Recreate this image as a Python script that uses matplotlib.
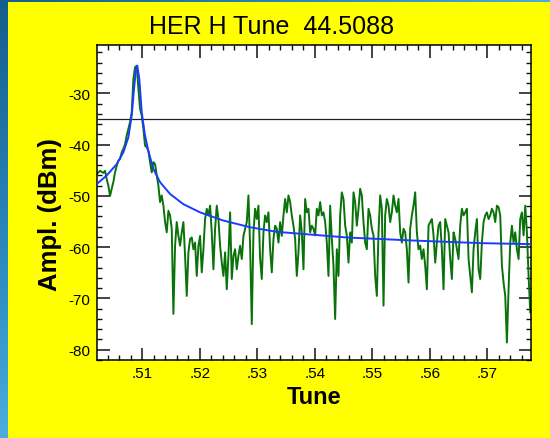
import numpy as np
import matplotlib
matplotlib.use("Agg")
import matplotlib.pyplot as plt
from matplotlib.colors import LinearSegmentedColormap
from matplotlib.patches import Rectangle
from matplotlib.ticker import MultipleLocator, FuncFormatter

plt.rcParams['font.family'] = ['Liberation Sans', 'DejaVu Sans']
plt.rcParams['axes.unicode_minus'] = False

# ============================================
# SPECTRUM DATA
# ============================================

# spectrum bins are evenly spaced in tune
tune_start = 0.50207
tune_step = 0.00029

# measured amplitude (dBm), split in three stretches
green_peak_db = [
    -45.7, -45.4, -45.1, -45.3, -45.5, -45.1, -46.7, -48.0, -50.0, -48.6,
    -47.3, -45.4, -44.1, -43.1, -42.8, -41.5, -40.8, -39.9, -38.2, -36.9,
    -35.6, -33.7, -27.2, -24.9, -24.6, -29.1, -33.0, -34.3, -36.9, -40.2,
    -40.5, -41.2, -43.4, -45.4, -43.4, -43.8, -46.0, -48.0, -51.2, -49.9,
]
green_mid_db = [
    -51.9, -55.1, -57.1, -52.9, -53.8, -56.4, -73.0, -59.7, -55.1, -57.8,
    -59.7, -57.1, -55.1, -61.7, -69.5, -61.0, -58.4, -58.1, -60.4, -59.1,
    -65.6, -59.7, -57.8, -64.9, -60.4, -54.5, -52.5, -53.8, -51.9, -57.1,
    -64.3, -56.4, -51.9, -54.5, -59.7, -63.0, -65.6, -61.0, -68.2, -61.7,
    -53.2, -66.2, -61.7, -60.4, -64.3, -61.7, -59.7, -62.3, -57.8, -56.4,
    -55.1, -49.9, -59.7, -75.0, -57.1, -52.5, -54.5, -51.9, -62.3, -66.2,
    -57.1, -53.8, -55.1, -53.2, -60.4, -64.9, -58.4, -55.8, -56.4, -59.1,
    -55.1, -57.8, -53.8, -50.6, -53.2, -49.9, -51.2, -53.8, -55.8, -58.4,
    -65.6, -61.0,
]
green_tail_db = [
    -53.8, -57.1, -64.3, -50.6, -53.2, -52.5, -57.1, -55.8, -56.4, -57.7,
    -52.5, -53.8, -51.2, -53.8, -53.2, -55.1, -59.1, -65.6, -51.9, -58.4,
    -63.6, -74.0, -60.4, -65.6, -53.8, -49.3, -50.6, -55.8, -57.7, -63.0,
    -57.1, -59.1, -49.3, -51.2, -55.8, -52.5, -48.6, -49.9, -55.1, -59.1,
    -60.4, -52.5, -53.8, -56.4, -57.7, -65.6, -69.5, -57.1, -49.9, -52.5,
    -71.4, -53.8, -50.6, -51.9, -55.1, -53.2, -49.9, -51.9, -53.2, -50.6,
    -57.1, -59.1, -56.4, -57.1, -60.4, -66.9, -56.4, -53.8, -51.9, -49.3,
    -57.1, -60.4, -59.7, -62.3, -60.4, -63.6, -68.2, -55.8, -55.1, -54.5,
    -57.7, -63.0, -59.1, -55.8, -55.1, -60.4, -68.2, -54.5, -55.8, -57.1,
    -62.3, -66.2, -57.1, -58.4, -60.4, -62.3, -55.8, -52.5, -53.8, -53.2,
    -52.5, -62.3, -65.6, -68.8, -60.4, -57.1, -54.5, -64.3, -66.2, -59.1,
    -55.1, -53.8, -53.2, -54.5, -53.8, -52.5, -53.2, -55.1, -51.9, -52.2,
    -53.8, -63.6, -66.9, -69.5, -78.6, -68.2, -59.1, -55.8, -59.1, -57.1,
    -60.4, -62.3, -54.5, -53.2, -57.7, -51.9, -57.1, -65.6, -72.7,
]

# resonance fit
fit_tune = [
    0.50207, 0.50381, 0.50555, 0.50670, 0.50757, 0.50816, 0.50856, 0.50891,
    0.50913, 0.50948, 0.50990, 0.51047, 0.51104, 0.51191, 0.51308, 0.51482,
    0.51713, 0.52004, 0.52409, 0.52873, 0.53337, 0.54555, 0.55713, 0.56873,
    0.57743,
]
fit_db = [
    -47.7, -46.0, -43.8, -41.5, -38.6, -34.3, -29.1, -25.2,
    -24.6, -27.2, -33.7, -38.2, -41.2, -44.7, -47.3, -49.6,
    -51.6, -53.2, -54.8, -56.1, -57.0, -58.1, -58.7, -59.2,
    -59.4,
]

threshold_db = -35
peak_tune = 44.5088

green_db = np.array(green_peak_db + green_mid_db + green_tail_db)
green_tune = tune_start + tune_step * np.arange(len(green_db))

# ============================================
# FIGURE
# ============================================

W, H = 550, 439
fig = plt.figure(figsize=(W / 100, H / 100), dpi=100)

# blue backdrop with yellow panel
bg = fig.add_axes([0, 0, 1, 1])
bg.axis('off')
yy, xx = np.mgrid[0:1:200j, 0:1:200j]
shade = np.clip(0.8 * yy + 0.8 * xx, 0, 1)
blues = LinearSegmentedColormap.from_list('bg', ['#155d8a', '#2e8cc0', '#5cc3ec'])
bg.imshow(shade, cmap=blues, aspect='auto', extent=[0, 1, 0, 1])
bg.add_patch(Rectangle((8 / W, 0), 1 - 8 / W, (H - 3) / H,
                       facecolor='#ffff00', edgecolor='none'))
bg.set_xlim(0, 1)
bg.set_ylim(0, 1)

left, right, top, bottom = 96.7, 531, 45.7, 361
ax = fig.add_axes([left / W, 1 - bottom / H, (right - left) / W, (bottom - top) / H])
ax.set_facecolor('white')

ax.plot(green_tune, green_db, color='#0a720a', lw=1.4, zorder=2)
ax.axhline(threshold_db, color='#222222', lw=0.9, zorder=3)
ax.plot(fit_tune, fit_db, color='#1a3cff', lw=1.4, zorder=4)

ax.set_xlim(0.50207, 0.57760)
ax.set_ylim(-82.0, -20.5)

ax.xaxis.set_major_locator(MultipleLocator(0.01))
ax.xaxis.set_minor_locator(MultipleLocator(0.002))
ax.yaxis.set_major_locator(MultipleLocator(10))
ax.yaxis.set_minor_locator(MultipleLocator(2))
ax.xaxis.set_major_formatter(FuncFormatter(lambda v, p: f'{v:.2f}'[1:]))
ax.yaxis.set_major_formatter(FuncFormatter(lambda v, p: f'{v:.0f}'))

ax.tick_params(which='both', direction='in', top=True, right=True, colors='#111111')
ax.tick_params(which='major', length=9, width=1.1, labelsize=11, pad=4.5, labelcolor='black')
ax.tick_params(which='minor', length=3.6, width=1.0)
for sp in ax.spines.values():
    sp.set_linewidth(1.1)
    sp.set_color('black')

fig.text(272 / W, 1 - 27 / H, f'HER H Tune  {peak_tune:.4f}', ha='center', va='center',
         fontsize=18)
fig.text(314 / W, 1 - 398 / H, 'Tune', ha='center', va='center',
         fontsize=17, fontweight='bold')
fig.text(50 / W, 1 - 215 / H, 'Ampl. (dBm)', ha='center', va='center',
         rotation=90, fontsize=18.5, fontweight='bold')

fig.savefig('out.png', dpi=100)
